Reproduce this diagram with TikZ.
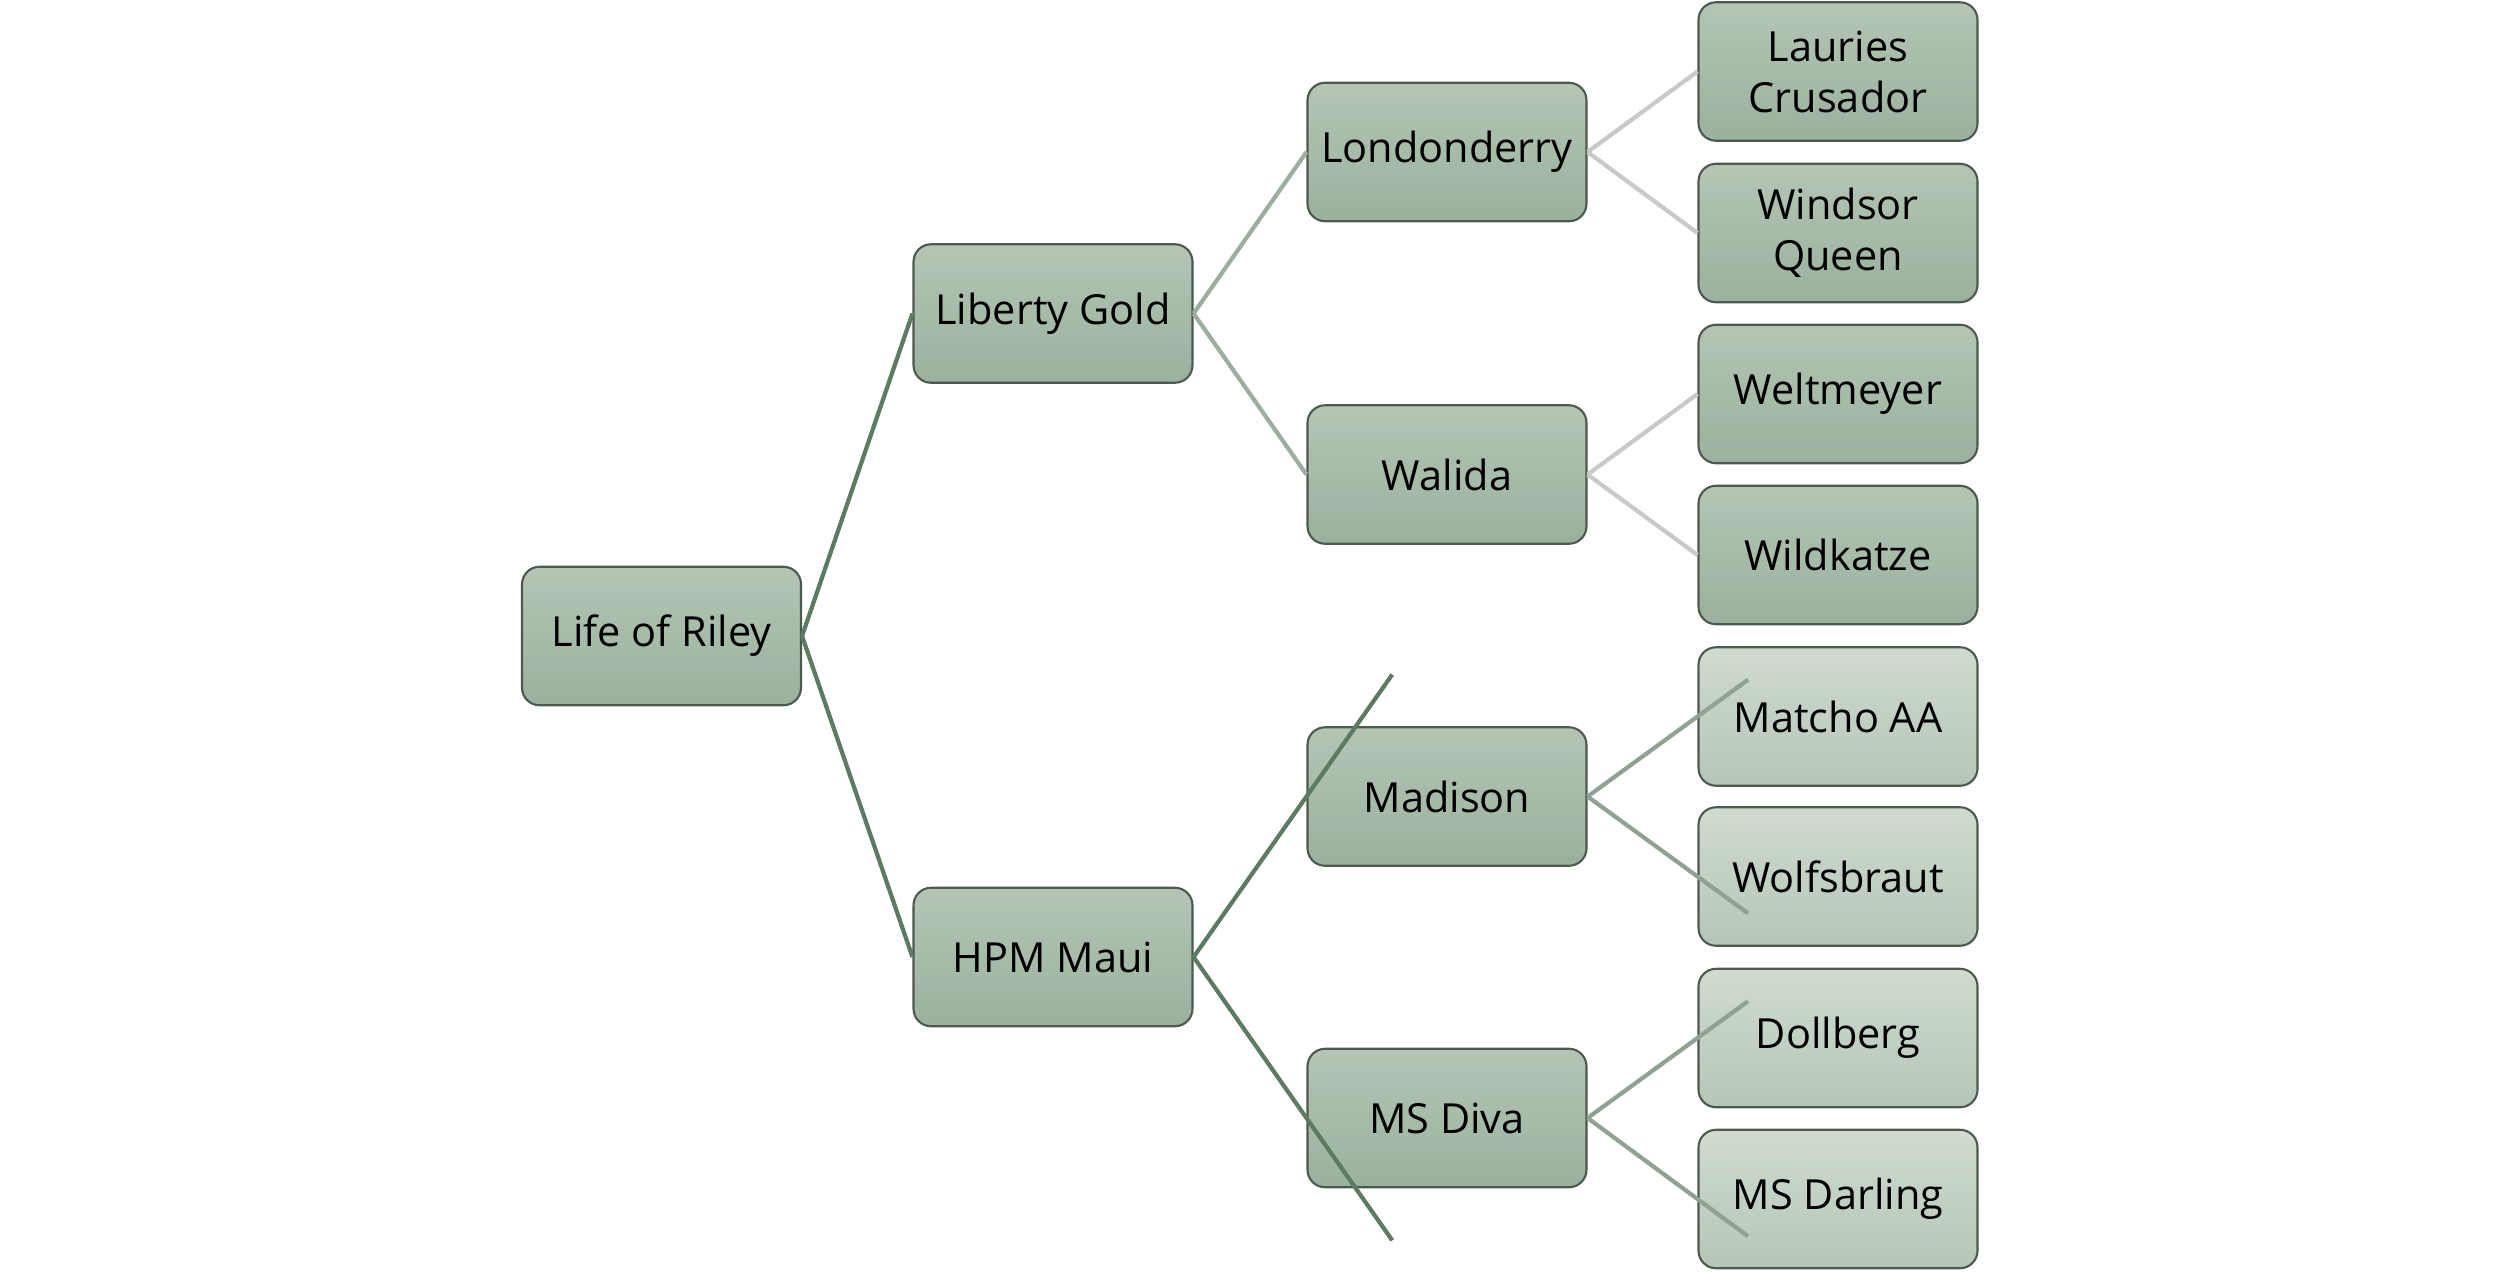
\documentclass[tikz,border=0pt]{standalone}
\usepackage{fontspec}
\setmainfont{Open Sans}
\usetikzlibrary{calc}
\definecolor{boxtop}{HTML}{B4C5B4}
\definecolor{boxbot}{HTML}{9AB19E}
\definecolor{ltop}{HTML}{CFDBCF}
\definecolor{lbot}{HTML}{B5C6B7}
\definecolor{edge}{HTML}{4C5A4E}
\definecolor{dk}{HTML}{5C7B62}
\definecolor{md}{HTML}{9CAEA0}
\definecolor{gm}{HTML}{8FA294}
\definecolor{lt}{HTML}{C8C9C8}

\begin{document}
\begin{tikzpicture}
[b/.style={draw=edge,line width=0.6pt,rounded corners=5pt,top color=boxtop,bottom color=boxbot,
  minimum width=2.79cm,minimum height=1.385cm,align=center,font=\fontsize{11.8}{14.5}\selectfont,inner sep=1pt},
 lb/.style={b,top color=ltop,bottom color=lbot},
 l0/.style={dk,line width=1.2pt},
 l1/.style={md,line width=1.2pt},
 l2/.style={lt,line width=1.2pt},
 l3/.style={gm,line width=1.2pt}]
\useasboundingbox (0,0) rectangle (25,-12.72);
\node[b] (riley) at (6.615,-6.36) {Life of Riley};
\node[b] (liberty) at (10.53,-3.135) {Liberty Gold};
\node[b] (maui) at (10.53,-9.57) {HPM Maui};
\node[b] (london) at (14.47,-1.52) {Londonderry};
\node[b] (walida) at (14.47,-4.745) {Walida};
\node[b] (madison) at (14.47,-7.965) {Madison};
\node[b] (diva) at (14.47,-11.18) {MS Diva};
\node[b] (lauries) at (18.38,-0.715) {Lauries\\Crusador};
\node[b] (windsor) at (18.38,-2.33) {Windsor\\Queen};
\node[b] (welt) at (18.38,-3.94) {Weltmeyer};
\node[b] (wild) at (18.38,-5.55) {Wildkatze};
\node[lb] (matcho) at (18.38,-7.165) {Matcho AA};
\node[lb] (wolf) at (18.38,-8.765) {Wolfsbraut};
\node[lb] (doll) at (18.38,-10.38) {Dollberg};
\node[lb] (darling) at (18.38,-11.99) {MS Darling};
\coordinate (madtip) at ($(maui.east)!1.76!(madison.west)$);
\coordinate (divatip) at ($(maui.east)!1.76!(diva.west)$);
\coordinate (matchotip) at ($(madison.east)!1.46!(matcho.west)$);
\coordinate (wolftip) at ($(madison.east)!1.46!(wolf.west)$);
\coordinate (dolltip) at ($(diva.east)!1.46!(doll.west)$);
\coordinate (darlingtip) at ($(diva.east)!1.46!(darling.west)$);
\draw[l0] (riley.east) -- (liberty.west);
\draw[l0] (riley.east) -- (maui.west);
\draw[l1] (liberty.east) -- (london.west);
\draw[l1] (liberty.east) -- (walida.west);
\draw[l2] (london.east) -- (lauries.west);
\draw[l2] (london.east) -- (windsor.west);
\draw[l2] (walida.east) -- (welt.west);
\draw[l2] (walida.east) -- (wild.west);
\draw[l0] (maui.east) -- (madtip);
\draw[l0] (maui.east) -- (divatip);
\draw[l3] (madison.east) -- (matchotip);
\draw[l3] (madison.east) -- (wolftip);
\draw[l3] (diva.east) -- (dolltip);
\draw[l3] (diva.east) -- (darlingtip);
\end{tikzpicture}
\end{document}
